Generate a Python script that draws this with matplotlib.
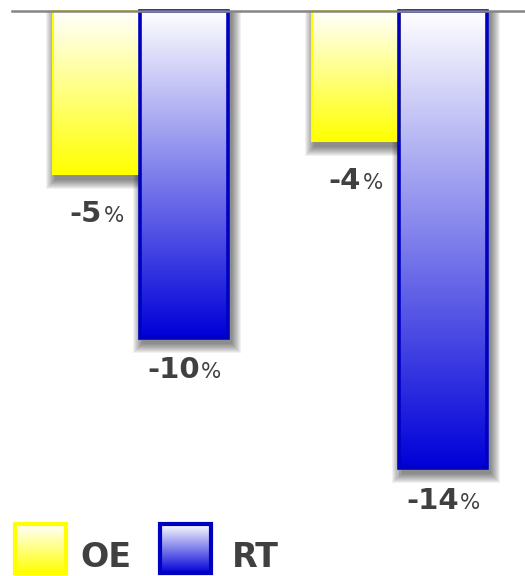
import numpy as np
import matplotlib
matplotlib.use("Agg")
import matplotlib.pyplot as plt
from matplotlib.patches import Rectangle
from matplotlib.offsetbox import TextArea, HPacker, AnnotationBbox

# ------------------------------------------------------------------ #
# data                                                               #
# ------------------------------------------------------------------ #
group_pos = [0, 1]
series_names = ["OE", "RT"]
oe_values = [-5, -4]
rt_values = [-10, -14]

OE_COLOR = (1.0, 1.0, 0.0)
OE_EDGE = "#FFFF00"
RT_COLOR = (0.0, 0.0, 0.85)
RT_EDGE = "#0000C0"
TEXT_COLOR = "#404040"

# pixel scale of the plot (px per data unit)
SX = 259.0
SY = 32.7
BAR_W = 87.5 / SX

fig = plt.figure(figsize=(5.25, 5.76), dpi=100)
ax = fig.add_axes([0, 0, 1, 1])
xlim = (-140.5 / SX, (525 - 140.5) / SX)
ylim = (-(576 - 10.5) / SY, 10.5 / SY)


def gradient(color, n=256):
    t = np.linspace(0, 1, n)[:, None, None]
    white = np.ones(3)[None, None, :]
    return white * (1 - t) + np.array(color)[None, None, :] * t


def shadow(ax, patch, dx=3, dy=5, layers=10):
    x0, w = patch.get_x(), patch.get_width()
    h = patch.get_height()
    for r in range(1, layers + 1):
        ax.add_patch(Rectangle((x0 - r / SX + dx / SX, h - r / SY - dy / SY),
                               w + 2 * r / SX, -h + r / SY + dy / SY,
                               facecolor="black", edgecolor="none",
                               alpha=0.055, zorder=1))


x = np.array(group_pos, dtype=float)
bars_oe = ax.bar(x - BAR_W / 2, oe_values, BAR_W, facecolor="none",
                 edgecolor=OE_EDGE, linewidth=1.5, zorder=3)
bars_rt = ax.bar(x + BAR_W / 2, rt_values, BAR_W, facecolor="none",
                 edgecolor=RT_EDGE, linewidth=2.6, zorder=3)

for bars, col in [(bars_oe, OE_COLOR), (bars_rt, RT_COLOR)]:
    for p in bars:
        shadow(ax, p)
        x0, w, h = p.get_x(), p.get_width(), p.get_height()
        ax.imshow(gradient(col), extent=(x0, x0 + w, h, 0), aspect="auto",
                  origin="upper", interpolation="bilinear", clip_path=p,
                  zorder=2)

# value labels: bold number + light percent sign
for bars, vals, gap in [(bars_oe, oe_values, 40), (bars_rt, rt_values, 33)]:
    for p, v in zip(bars, vals):
        num = TextArea(f"{v}", textprops=dict(fontsize=21, fontweight="bold",
                                                 family="DejaVu Sans",
                                                 color=TEXT_COLOR))
        pct = TextArea("%", textprops=dict(fontsize=15.5, family="DejaVu Sans",
                                           color=TEXT_COLOR))
        box = HPacker(children=[num, pct], align="baseline", pad=0, sep=1)
        ab = AnnotationBbox(box, (p.get_x() + p.get_width() / 2, v - gap / SY),
                            box_alignment=(0.5, 0.5), frameon=False, zorder=4)
        ax.add_artist(ab)

ax.axhline(0, xmin=12 / 525, xmax=1, color="#858585", linewidth=1.8, zorder=5)

ax.set_xlim(*xlim)
ax.set_ylim(*ylim)
ax.axis("off")

# ------------------------------------------------------------------ #
# legend (pixel coordinates overlay)                                 #
# ------------------------------------------------------------------ #
lax = fig.add_axes([0, 0, 1, 1])
lax.set_xlim(0, 525)
lax.set_ylim(576, 0)
lax.axis("off")
lax.patch.set_alpha(0)

for name, col, edge, sx, tx in [("OE", OE_COLOR, OE_EDGE, 13, 80),
                                ("RT", RT_COLOR, RT_EDGE, 158, 232)]:
    sw = Rectangle((sx + 2, 524), 51, 49, facecolor="none", edgecolor=edge,
                   linewidth=3, zorder=3)
    lax.add_patch(sw)
    lax.imshow(gradient(col), extent=(sx + 2, sx + 53, 573, 524), aspect="auto",
               origin="upper", interpolation="bilinear", clip_path=sw, zorder=2)
    lax.text(tx, 567, name, fontsize=24, fontweight="bold",
             family="DejaVu Sans", color=TEXT_COLOR, va="baseline",
             ha="left")
lax.set_xlim(0, 525)
lax.set_ylim(576, 0)

fig.savefig("out.png", dpi=100)
